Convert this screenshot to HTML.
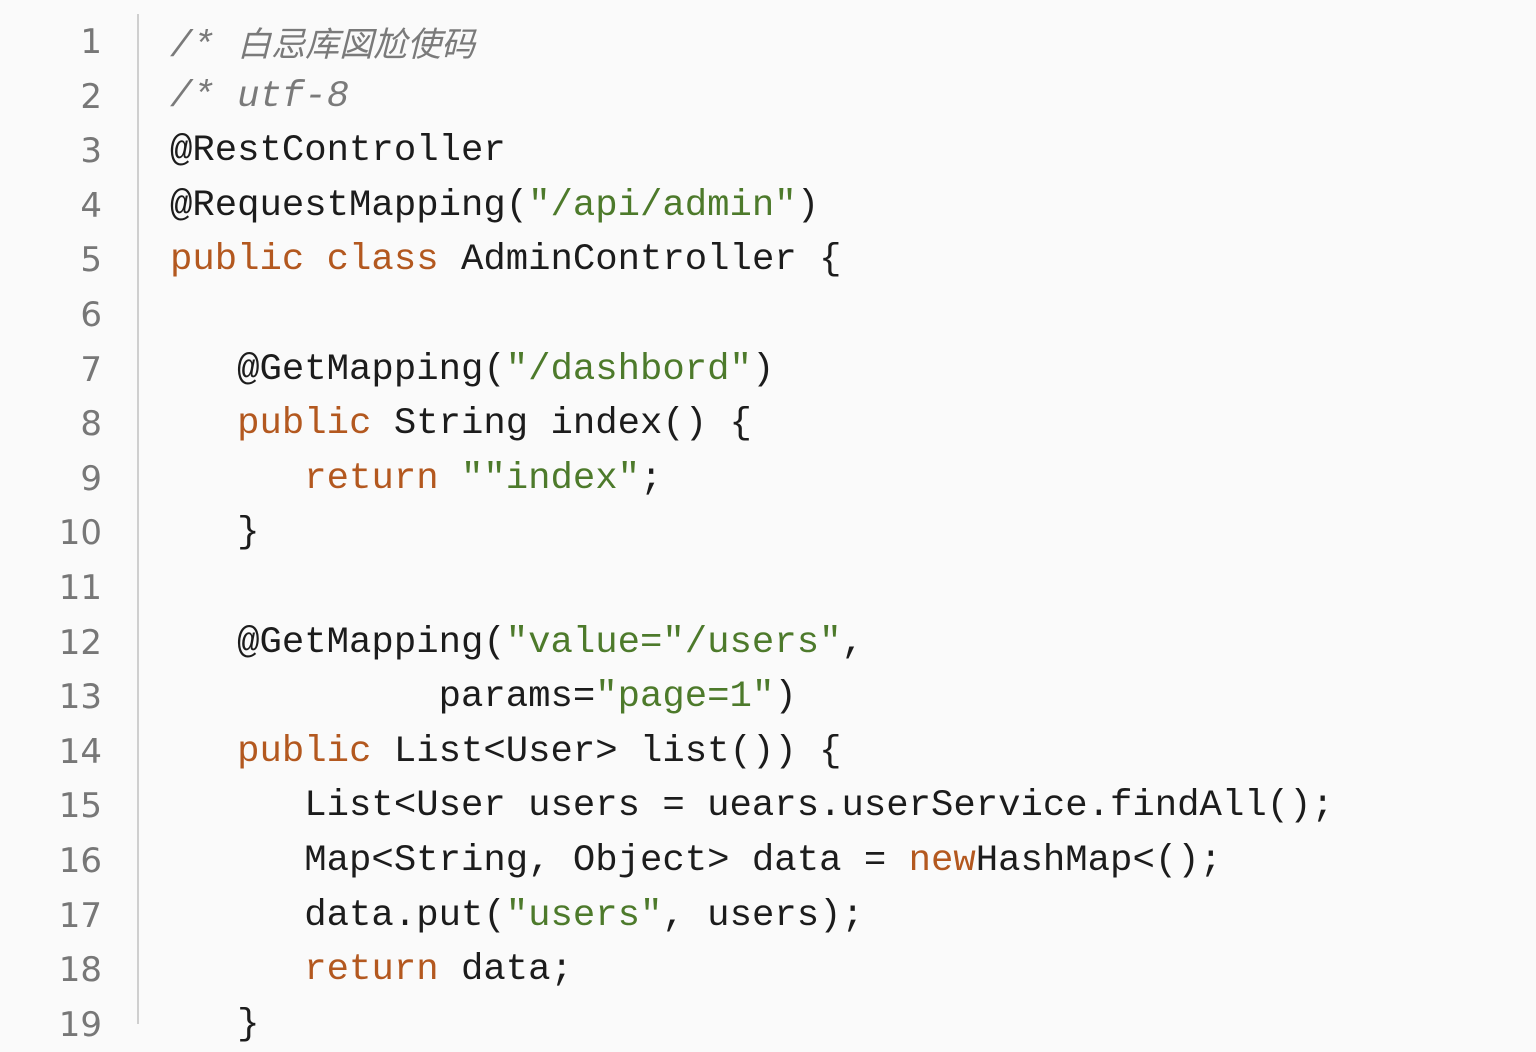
<!DOCTYPE html>
<html><head><meta charset="utf-8"><style>
html,body{margin:0;padding:0;background:#fafafa;width:1536px;height:1024px;overflow:hidden}
.g{position:absolute;left:0;top:0;width:102px;text-align:right;font-family:"DejaVu Sans","Liberation Sans",sans-serif;font-size:34px;color:#777}
.d{position:absolute;left:137px;top:14px;width:2px;height:1010px;background:#cfcfcf}
.c{position:absolute;left:170px;top:0;font-family:"Liberation Mono","Noto Sans CJK SC",monospace;font-size:37.3px;color:#1c1c1c}
.l{height:54.6px;line-height:54.6px;white-space:pre}
.k{color:#b3581f}.s{color:#4d7a2b}.m{color:#7a7a7a;font-style:italic}
.wrap{position:absolute;left:0;top:15px;width:1536px}
</style></head><body>
<div class="d"></div>
<div class="wrap">
<div class="g">
<div class="l">1</div><div class="l">2</div><div class="l">3</div><div class="l">4</div><div class="l">5</div><div class="l">6</div><div class="l">7</div><div class="l">8</div><div class="l">9</div><div class="l">10</div><div class="l">11</div><div class="l">12</div><div class="l">13</div><div class="l">14</div><div class="l">15</div><div class="l">16</div><div class="l">17</div><div class="l">18</div><div class="l">19</div>
</div>
<div class="c"><div class="l"><span class="m">/* <span style="font-family:'Noto Sans CJK SC',sans-serif;font-size:34px">白忌库図尬使码</span></span></div><div class="l"><span class="m">/* utf-8</span></div><div class="l">@RestController</div><div class="l">@RequestMapping(<span class="s">"/api/admin"</span>)</div><div class="l"><span class="k">public class</span> AdminController {</div><div class="l"> </div><div class="l">   @GetMapping(<span class="s">"/dashbord"</span>)</div><div class="l">   <span class="k">public</span> String index() {</div><div class="l">      <span class="k">return</span> <span class="s">""index"</span>;</div><div class="l">   }</div><div class="l"> </div><div class="l">   @GetMapping(<span class="s">"value="/users"</span>,</div><div class="l">            params=<span class="s">"page=1"</span>)</div><div class="l">   <span class="k">public</span> List&lt;User&gt; list()) {</div><div class="l">      List&lt;User users = uears.userService.findAll();</div><div class="l">      Map&lt;String, Object&gt; data = <span class="k">new</span>HashMap&lt;();</div><div class="l">      data.put(<span class="s">"users"</span>, users);</div><div class="l">      <span class="k">return</span> data;</div><div class="l">   }</div></div>
</div>
</body></html>
